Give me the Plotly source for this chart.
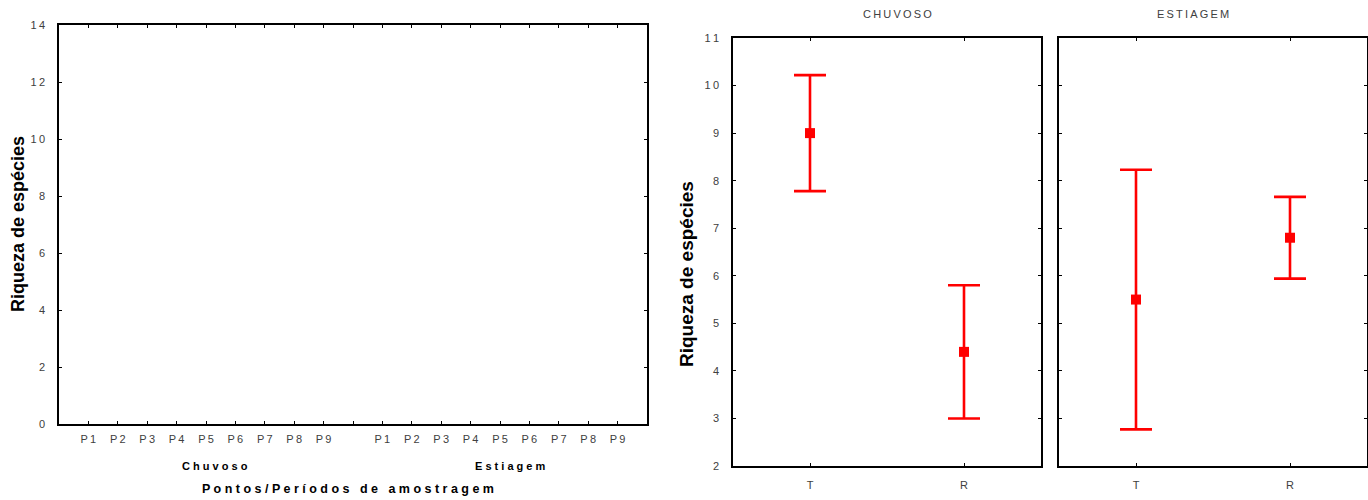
import plotly.graph_objects as go

# ---------------- data ----------------
pontos = ["P1", "P2", "P3", "P4", "P5", "P6", "P7", "P8", "P9"]
periodos_esq = ["Chuvoso", "Estiagem"]
riqueza_esq_ticks = [0, 2, 4, 6, 8, 10, 12, 14]

periodos = ["CHUVOSO", "ESTIAGEM"]
grupos = ["T", "R"]
media_chuvoso = [9.0, 4.4]
erro_chuvoso = [1.22, 1.40]
media_estiagem = [5.5, 6.8]
erro_estiagem = [2.73, 0.86]
riqueza_dir_ticks = [2, 3, 4, 5, 6, 7, 8, 9, 10, 11]

W, H = 1368, 500
TS = "\u2009"  # thin space for letter spacing


def sp(s, sep=TS):
    return sep.join(list(s))


def fx(px):
    return px / W


def fy(py):
    return 1 - py / H


TICKFONT = dict(family="Liberation Sans Narrow, Arial Narrow, Liberation Sans, Arial", size=11, color="#404040")
RED = "#ff0000"

fig = go.Figure()

# ---------- left panel (empty) ----------
slot_x = list(range(1, 10)) + list(range(11, 20))
slot_lbl = [sp(p) for p in pontos] + [sp(p) for p in pontos]
fig.add_trace(go.Scatter(x=slot_x, y=[None] * len(slot_x), mode="markers",
                         xaxis="x", yaxis="y", showlegend=False, hoverinfo="skip"))

# ---------- right panels ----------
fig.add_trace(go.Scatter(
    x=[0, 1], y=media_chuvoso, mode="markers", xaxis="x2", yaxis="y2",
    marker=dict(symbol="square", size=10, color=RED),
    error_y=dict(type="data", array=erro_chuvoso, color=RED, thickness=2.6, width=16),
    showlegend=False))
fig.add_trace(go.Scatter(
    x=[0, 1], y=media_estiagem, mode="markers", xaxis="x3", yaxis="y3",
    marker=dict(symbol="square", size=10, color=RED),
    error_y=dict(type="data", array=erro_estiagem, color=RED, thickness=2.6, width=16),
    showlegend=False))

axcommon = dict(showline=True, linecolor="black", linewidth=1.6, mirror="ticks",
                ticks="inside", ticklen=3, tickcolor="black", tickwidth=1,
                showgrid=False, zeroline=False, tickfont=TICKFONT, fixedrange=True,
                automargin=False)

layout = dict(
    width=W, height=H, margin=dict(l=0, r=0, t=0, b=0, autoexpand=False),
    paper_bgcolor="white", plot_bgcolor="white", showlegend=False,
    xaxis=dict(domain=[fx(59), fx(647)], range=[0, 20], tickmode="array",
               tickvals=list(range(1, 20)),
               ticktext=slot_lbl[:9] + [""] + slot_lbl[9:],
               anchor="y", ticklabelstandoff=4, **axcommon),
    yaxis=dict(domain=[fy(424), fy(25)], range=[0, 14], tickmode="array",
               tickvals=riqueza_esq_ticks,
               ticktext=[sp(str(v)) for v in riqueza_esq_ticks],
               anchor="x", ticklabelstandoff=10, **axcommon),
    xaxis2=dict(domain=[fx(733), fx(1041)], range=[-0.5, 1.5], tickmode="array",
                tickvals=[0, 1], ticktext=grupos, anchor="y2", ticklabelstandoff=8, **axcommon),
    yaxis2=dict(domain=[fy(466), fy(38)], range=[2, 11], tickmode="array",
                tickvals=riqueza_dir_ticks,
                ticktext=[sp(str(v)) for v in riqueza_dir_ticks],
                anchor="x2", ticklabelstandoff=10, **axcommon),
    xaxis3=dict(domain=[fx(1059), fx(1367)], range=[-0.5, 1.5], tickmode="array",
                tickvals=[0, 1], ticktext=grupos, anchor="y3", ticklabelstandoff=8, **axcommon),
    yaxis3=dict(domain=[fy(466), fy(38)], range=[2, 11], tickmode="array",
                tickvals=riqueza_dir_ticks, showticklabels=False,
                anchor="x3", **axcommon),
)
fig.update_layout(**layout)

ann = []
BOLD = dict(family="Liberation Sans, Arial", color="black")
C = dict(xref="paper", yref="paper", xanchor="center", yanchor="middle", showarrow=False)
# left-panel texts
ann.append(dict(x=fx(18), y=fy(224), text="<b>Riqueza de espécies</b>",
                textangle=-90, font=dict(size=18, **BOLD), **C))
ann.append(dict(x=fx(215), y=fy(466), text="<b>" + sp(periodos_esq[0], " ") + "</b>",
                font=dict(size=11, **BOLD), **C))
ann.append(dict(x=fx(510), y=fy(466), text="<b>" + sp(periodos_esq[1], " ") + "</b>",
                font=dict(size=11, **BOLD), **C))
ann.append(dict(x=fx(348), y=fy(489), text="<b>" + sp("Pontos/Períodos de amostragem", " ") + "</b>",
                font=dict(size=12.5, **BOLD), **C))
# right-panel texts
ann.append(dict(x=fx(686), y=fy(274), text="<b>Riqueza de espécies</b>",
                textangle=-90, font=dict(size=19, **BOLD), **C))
ann.append(dict(x=fx(897), y=fy(14), text=sp(periodos[0]), font=TICKFONT, **C))
ann.append(dict(x=fx(1193), y=fy(14), text=sp(periodos[1]), font=TICKFONT, **C))
fig.update_layout(annotations=ann)

fig.write_html("out.html", config={"displayModeBar": False},
               post_script="document.body.style.margin='0';")
